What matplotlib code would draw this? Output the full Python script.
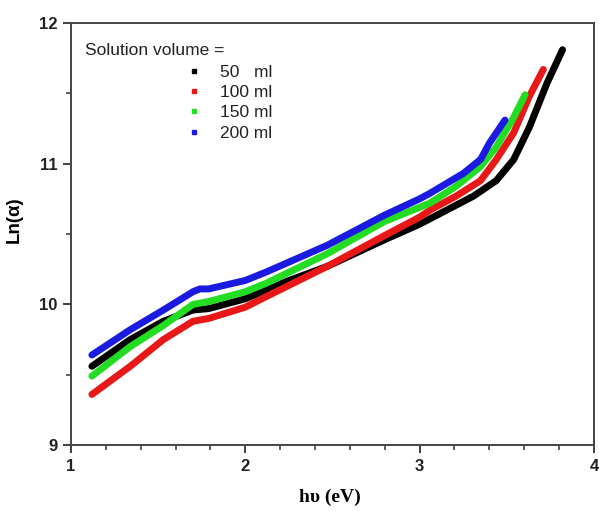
"""
Ln(alpha) vs photon energy for films grown from different solution volumes
"""

import matplotlib.pyplot as plt
from matplotlib.lines import Line2D
from matplotlib.ticker import MultipleLocator

# values
hv_50 = [1.12, 1.34, 1.53, 1.70, 1.79, 2.00, 2.12, 2.23, 2.47, 2.80, 3.00, 3.155, 3.31, 3.44, 3.54, 3.63, 3.73, 3.82]
ln_50 = [9.56, 9.75, 9.88, 9.96, 9.97, 10.04, 10.10, 10.16, 10.27, 10.46, 10.57, 10.67, 10.77, 10.88, 11.03, 11.26, 11.57, 11.81]

hv_100 = [1.12, 1.34, 1.53, 1.70, 1.79, 2.00, 2.12, 2.47, 2.80, 3.00, 3.06, 3.21, 3.35, 3.44, 3.54, 3.63, 3.71]
ln_100 = [9.36, 9.56, 9.75, 9.88, 9.90, 9.98, 10.055, 10.27, 10.49, 10.62, 10.67, 10.77, 10.88, 11.03, 11.22, 11.48, 11.67]

hv_150 = [1.12, 1.34, 1.53, 1.70, 1.79, 2.00, 2.12, 2.47, 2.80, 3.00, 3.06, 3.21, 3.35, 3.44, 3.54, 3.605]
ln_150 = [9.49, 9.70, 9.85, 10.00, 10.02, 10.09, 10.15, 10.36, 10.59, 10.69, 10.72, 10.84, 10.98, 11.12, 11.33, 11.49]

hv_200 = [1.12, 1.34, 1.53, 1.70, 1.74, 1.79, 2.00, 2.12, 2.47, 2.80, 3.00, 3.06, 3.25, 3.35, 3.40, 3.49]
ln_200 = [9.64, 9.82, 9.96, 10.09, 10.11, 10.11, 10.17, 10.23, 10.42, 10.635, 10.75, 10.79, 10.93, 11.03, 11.145, 11.31]

series = [
    (hv_50, ln_50, "#000000", "50   ml"),
    (hv_100, ln_100, "#e81818", "100 ml"),
    (hv_150, ln_150, "#22dd22", "150 ml"),
    (hv_200, ln_200, "#1a1ae0", "200 ml"),
]

fig = plt.figure(figsize=(5.99, 5.11), dpi=100)
ax = fig.add_axes([0.1185, 0.129, 0.873, 0.826])

for hv, ln, col, lab in series:
    ax.plot(hv, ln, color=col, lw=5, solid_capstyle="round", solid_joinstyle="round")

ax.set_xlim(1, 4)
ax.set_ylim(9, 12)
ax.xaxis.set_major_locator(MultipleLocator(1))
ax.xaxis.set_minor_locator(MultipleLocator(0.2))
ax.yaxis.set_major_locator(MultipleLocator(1))
ax.yaxis.set_minor_locator(MultipleLocator(0.5))
ax.tick_params(which="major", direction="out", length=5.8, width=1.3, color="#333333", pad=4)
ax.tick_params(which="minor", direction="out", length=3.6, width=1.1, color="#333333")
for lbl in ax.get_xticklabels() + ax.get_yticklabels():
    lbl.set_fontfamily("Liberation Sans")
    lbl.set_fontweight("bold")
    lbl.set_fontsize(12)
    lbl.set_color("#222222")

for sp in ax.spines.values():
    sp.set_linewidth(1.4)
    sp.set_color("#444444")

ax.set_ylabel("Ln(\u03b1)", fontfamily="Liberation Sans", fontweight="bold", fontsize=13.5)
ax.yaxis.set_label_coords(-0.092, 0.535)
ax.set_xlabel("h\u03c5 (eV)", fontfamily="Liberation Serif", fontweight="bold", fontsize=14)
ax.xaxis.set_label_coords(0.495, -0.104)

ax.text(0.027, 0.934, "Solution volume =", transform=ax.transAxes, fontfamily="Liberation Sans",
        fontsize=12.5, color="#222222", va="center", ha="left")
handles = [Line2D([], [], ls="none", marker="s", ms=3.5, color=c) for _, _, c, _ in series]
labels = [s[3] for s in series]
leg = ax.legend(handles, labels, loc="upper left", bbox_to_anchor=(0.209, 0.918), frameon=False,
                handlelength=0.8, handletextpad=1.1, labelspacing=0.3, borderaxespad=0,
                prop={"family": "Liberation Sans", "size": 12.5})
for t in leg.get_texts():
    t.set_color("#222222")

fig.savefig("out.png", dpi=100)
